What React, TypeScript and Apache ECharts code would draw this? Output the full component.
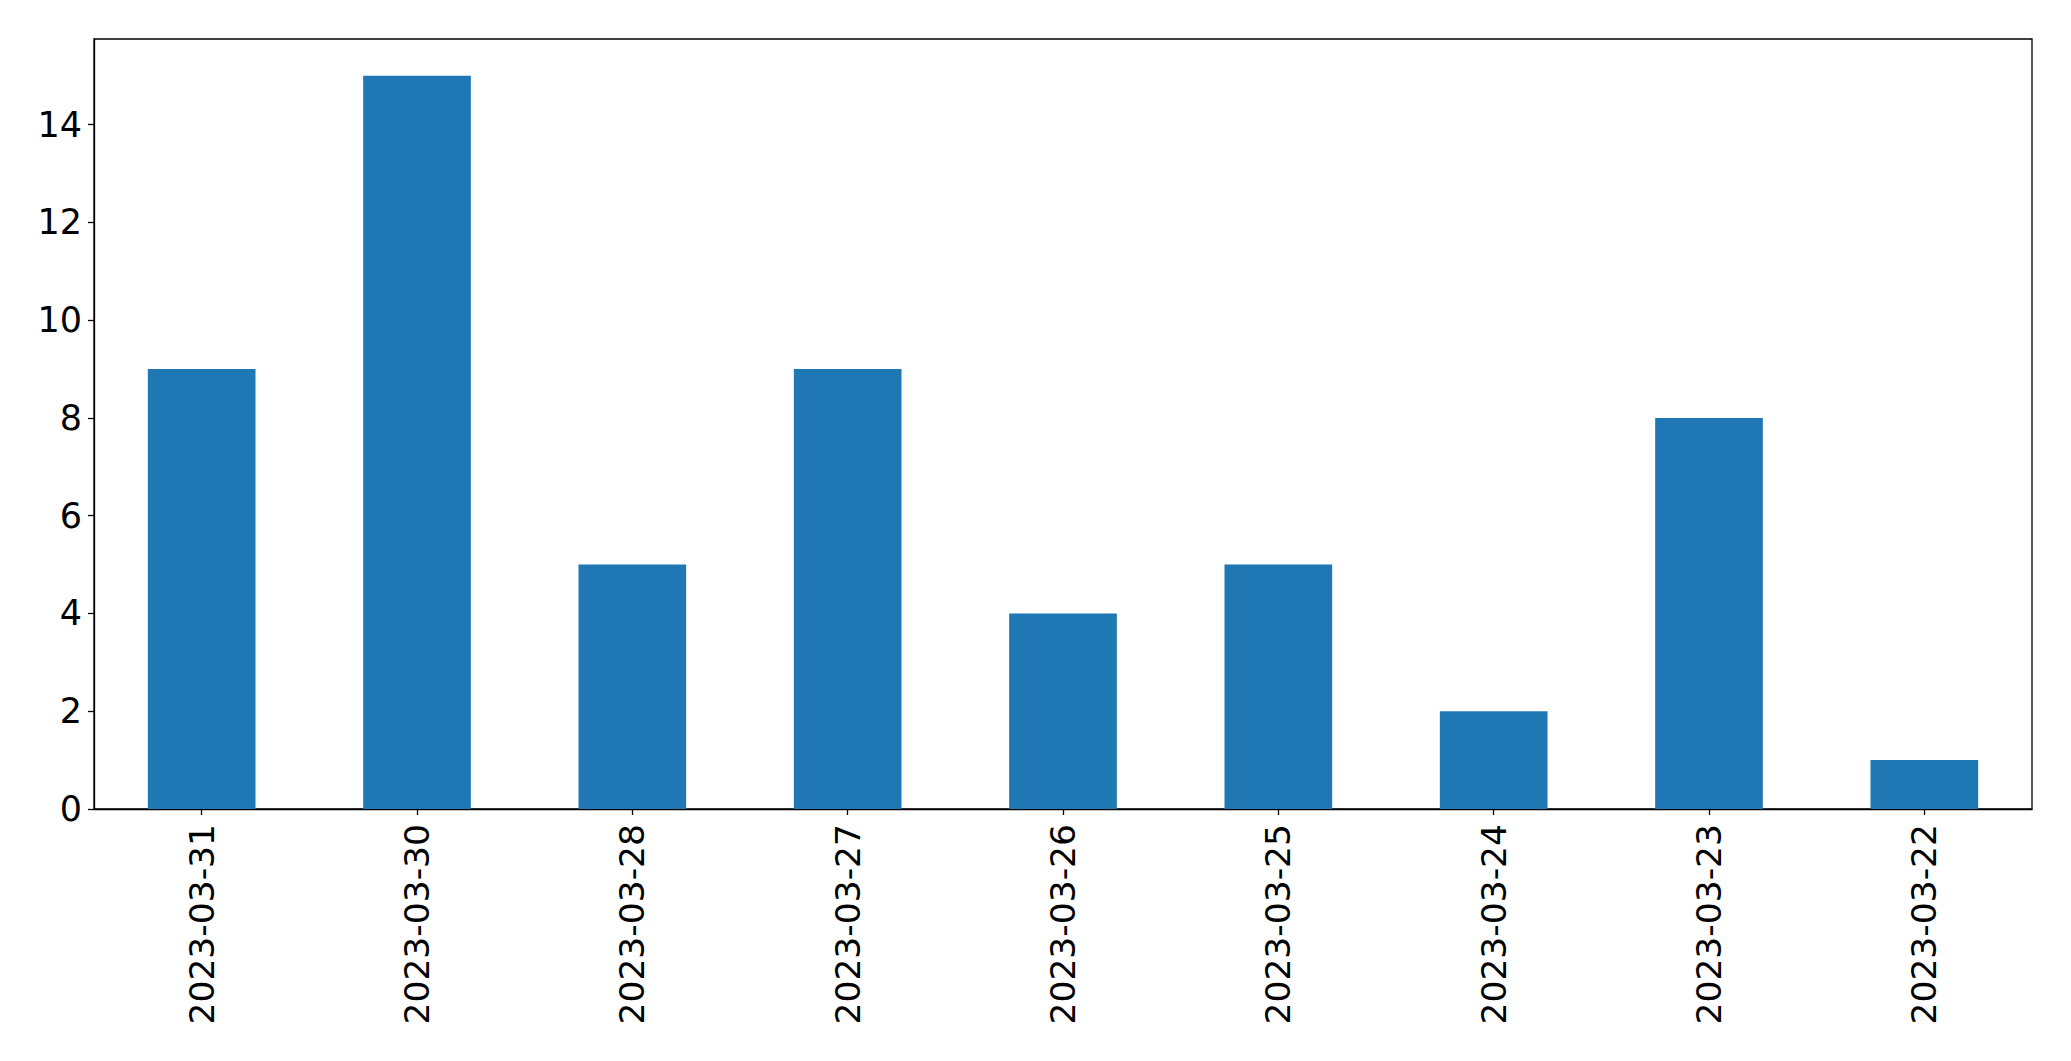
import React, { useEffect, useRef } from "react";
import * as echarts from "echarts";

const categories = [
  "2023-03-31",
  "2023-03-30",
  "2023-03-28",
  "2023-03-27",
  "2023-03-26",
  "2023-03-25",
  "2023-03-24",
  "2023-03-23",
  "2023-03-22",
];
const values = [9, 15, 5, 9, 4, 5, 2, 8, 1];

export default function App() {
  const ref = useRef<HTMLDivElement>(null);
  useEffect(() => {
    if (!ref.current) return;
    const chart = echarts.init(ref.current, null, { renderer: "svg" });
    const font = "DejaVu Sans";
    chart.setOption({
      animation: false,
      backgroundColor: "#ffffff",
      grid: {
        left: 94,
        top: 39,
        width: 1938,
        height: 770,
        show: true,
        borderColor: "#000000",
        borderWidth: 1.3,
        backgroundColor: "transparent",
      },
      xAxis: {
        type: "category",
        data: categories,
        boundaryGap: true,
        axisLine: { show: true, lineStyle: { color: "#000000", width: 1.3 } },
        axisTick: { show: true, alignWithLabel: true, length: 6, lineStyle: { color: "#000000", width: 1.3 } },
        axisLabel: {
          rotate: 90,
          margin: 15,
          color: "#000000",
          fontFamily: font,
          fontSize: 34.5,
          interval: 0,
        },
        splitLine: { show: false },
      },
      yAxis: {
        type: "value",
        min: 0,
        max: 15.75,
        interval: 2,
        axisLine: { show: true, lineStyle: { color: "#000000", width: 1.3 } },
        axisTick: { show: true, length: 6, lineStyle: { color: "#000000", width: 1.3 } },
        axisLabel: {
          showMaxLabel: false,
          margin: 12,
          color: "#000000",
          fontFamily: font,
          fontSize: 35,
        },
        splitLine: { show: false },
      },
      series: [
        {
          type: "bar",
          data: values,
          barWidth: "50%",
          itemStyle: { color: "#1f77b4" },
        },
      ],
    });
    return () => chart.dispose();
  }, []);
  return (
    <div
      ref={ref}
      style={{ position: "fixed", left: 0, top: 0, width: 2071, height: 1061 }}
    />
  );
}
